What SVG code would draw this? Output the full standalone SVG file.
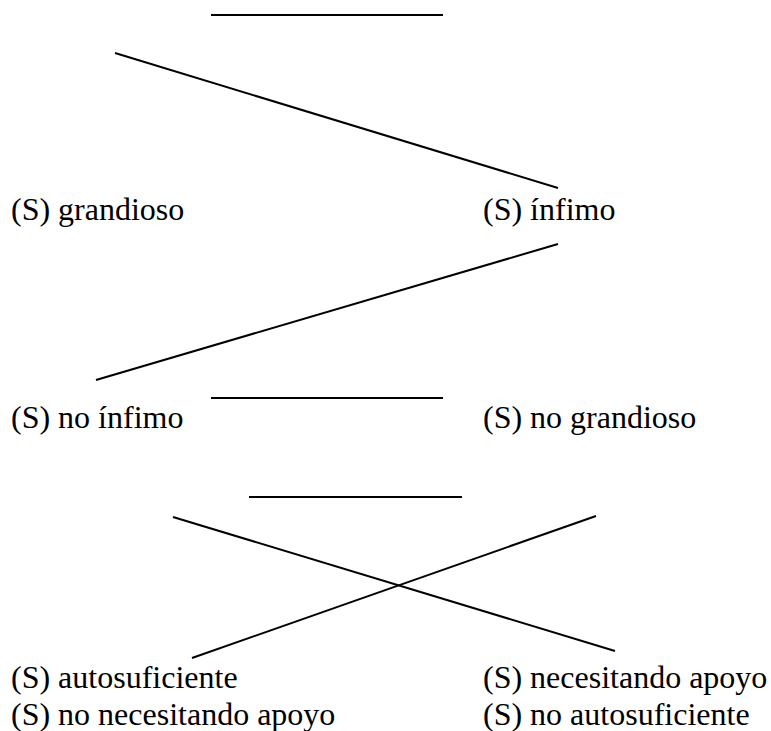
<svg xmlns="http://www.w3.org/2000/svg" width="771" height="731" viewBox="0 0 771 731">
<style>
line{stroke:#000;stroke-width:2}
</style>
<rect width="771" height="731" fill="#fff"/>
<g id="connectors">
<line x1="211" y1="15" x2="443" y2="15"/>
<line x1="115" y1="53" x2="558" y2="188"/>
<line x1="96" y1="380" x2="558" y2="244"/>
<line x1="211" y1="398" x2="443" y2="398"/>
<line x1="249" y1="497" x2="462" y2="497"/>
<line x1="173" y1="517" x2="615" y2="651"/>
<line x1="192" y1="658" x2="596" y2="516"/>
</g>
<g font-family="'Liberation Serif', 'Times New Roman', Tinos, 'DejaVu Serif', serif" font-size="32" fill="#000">
<g id="n1"><text x="11" y="220">(S) grandioso</text></g>
<g id="n2"><text x="483" y="220">(S) ínfimo</text></g>
<g id="n3"><text x="11" y="428">(S) no ínfimo</text></g>
<g id="n4"><text x="483" y="428">(S) no grandioso</text></g>
<g id="n5"><text x="11" y="688">(S) autosuficiente</text></g>
<g id="n6"><text x="483" y="688">(S) necesitando apoyo</text></g>
<g id="n7"><text x="11" y="725">(S) no necesitando apoyo</text></g>
<g id="n8"><text x="483" y="725">(S) no autosuficiente</text></g>
</g>
</svg>
